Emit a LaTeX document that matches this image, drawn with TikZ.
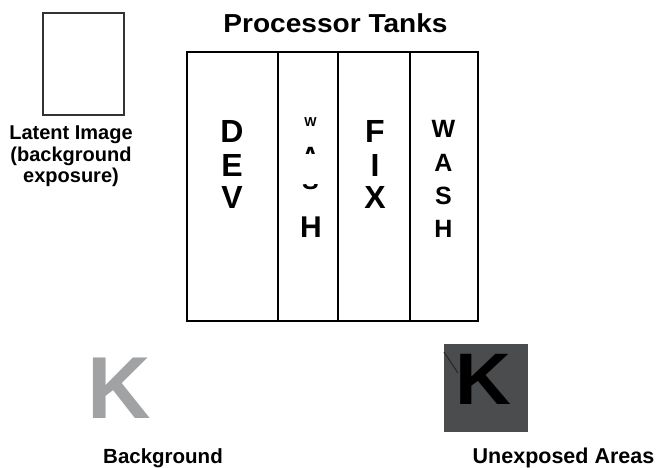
\documentclass[tikz,border=0pt]{standalone}
\usepackage{fontspec}
\setmainfont{Liberation Sans}
\newcommand\myfs[1]{\fontsize{#1}{#1}\selectfont}
\definecolor{boxgray}{HTML}{333333}
\definecolor{lightk}{HTML}{A1A2A4}
\definecolor{darksq}{HTML}{4B4C4E}
\definecolor{streak}{HTML}{2A2A2A}
\tikzset{
  txt/.style={inner sep=0pt, anchor=base, font=\bfseries},
  tank/.style={draw=black, line width=2pt, anchor=north west, inner sep=0pt, minimum height=269pt}
}
\begin{document}
\begin{tikzpicture}[x=1pt,y=-1pt]
\useasboundingbox (0,0) rectangle (662,468);
% latent image
\node[draw=boxgray, line width=1.8pt, minimum width=81pt, minimum height=102pt, inner sep=0pt] (latent) at (83.5,64) {};
\node[txt] (lt1) at (71,140) {\myfs{20}Latent Image};
\node[txt] (lt2) at (71,162) {\myfs{20}(background};
\node[txt] (lt3) at (71,183) {\myfs{20}exposure)};
% title
\node[txt] (title) at (335.5,32.5) {\scalebox{1.08}[1]{\myfs{26}Processor Tanks}};
% tanks
\node[tank, minimum width=91pt] (dev) at (186,51) {};
\node[tank, minimum width=60pt] (wash1) at (277,51) {};
\node[tank, minimum width=72pt] (fix) at (337,51) {};
\node[tank, minimum width=68pt] (wash2) at (409,51) {};
% DEV
\node[txt] (d1) at (232,143) {\myfs{32}D};
\node[txt] (d2) at (232,177) {\myfs{32}E};
\node[txt] (d3) at (232,208) {\myfs{32}V};
% FIX
\node[txt] (f1) at (375,143) {\myfs{32}F};
\node[txt] (f2) at (375,177) {\myfs{32}I};
\node[txt] (f3) at (375,208) {\myfs{32}X};
% WASH right
\node[txt] (w1) at (443.5,138) {\myfs{25}W};
\node[txt] (w2) at (443.5,172) {\myfs{25}A};
\node[txt] (w3) at (443.5,205) {\myfs{25}S};
\node[txt] (w4) at (443.5,237) {\myfs{25}H};
% WASH middle (partly hidden)
\node[txt] (m1) at (310.5,127) {\myfs{13}W};
\begin{scope}
  \clip (295,146) rectangle (325,154);
  \node[txt] (m2) at (310.5,165) {\myfs{25}A};
\end{scope}
\begin{scope}
  \clip (295,184.5) rectangle (325,191);
  \node[txt] (m3) at (310.5,189.5) {\myfs{25}S};
\end{scope}
\node[txt] (m4) at (311,237) {\myfs{30}H};
% background K
\node[txt, text=lightk] (kbg) at (119.5,418) {\myfs{88}K};
\node[txt] (bglab) at (163,463) {\myfs{20.5}Background};
% unexposed K
\node[fill=darksq, minimum width=84pt, minimum height=88pt, inner sep=0pt] (sq) at (486,388) {};
\coordinate (s1) at (444,352);
\coordinate (s2) at (458,373);
\draw[streak, line width=1.2pt] (s1) -- (s2);
\node[txt] (kun) at (483,404) {\scalebox{1.06}[1]{\myfs{73}K}};
\node[txt] (unlab) at (563.5,463) {\myfs{21.5}Unexposed Areas};
\end{tikzpicture}
\end{document}
